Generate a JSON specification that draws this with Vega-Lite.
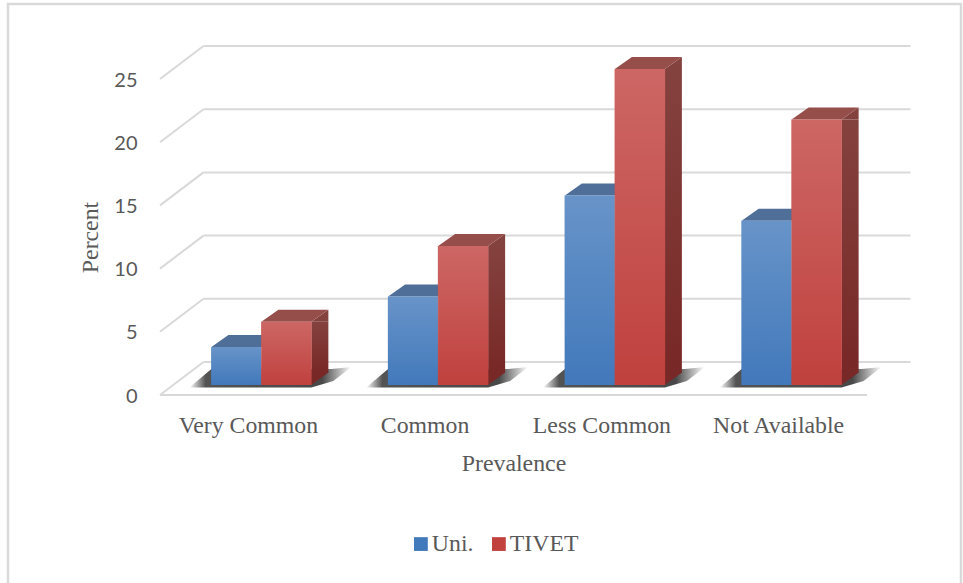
{
  "$schema": "https://vega.github.io/schema/vega-lite/v6.json",
  "width": 707,
  "height": 316,
  "autosize": {"type": "none"},
  "padding": {"left": 160, "top": 79, "right": 96, "bottom": 188},
  "background": "white",
  "config": {"view": {"stroke": null}},
  "datasets": {
    "survey": [
      {"prevalence": "Very Common", "series": "Uni.", "percent": 3},
      {"prevalence": "Very Common", "series": "TIVET", "percent": 5},
      {"prevalence": "Common", "series": "Uni.", "percent": 7},
      {"prevalence": "Common", "series": "TIVET", "percent": 11},
      {"prevalence": "Less Common", "series": "Uni.", "percent": 15},
      {"prevalence": "Less Common", "series": "TIVET", "percent": 25},
      {"prevalence": "Not Available", "series": "Uni.", "percent": 13},
      {"prevalence": "Not Available", "series": "TIVET", "percent": 21}
    ],
    "ticks": [{"tick": 0}, {"tick": 5}, {"tick": 10}, {"tick": 15}, {"tick": 20}, {"tick": 25}]
  },
  "layer": [
    {
      "description": "outer frame of the chart",
      "data": {"values": [{}]},
      "mark": {"type": "rect", "fill": null, "stroke": "#d9d9d9", "strokeWidth": 2.5},
      "encoding": {
        "x": {"value": -152},
        "x2": {"value": 801},
        "y": {"value": -75},
        "y2": {"value": 530}
      }
    },
    {
      "description": "back wall gridlines",
      "data": {"name": "ticks"},
      "mark": {"type": "rule", "stroke": "#d9d9d9", "strokeWidth": 2, "yOffset": -33},
      "encoding": {
        "x": {"value": 43.5},
        "x2": {"value": 750.5},
        "y": {
          "field": "tick",
          "type": "quantitative",
          "scale": {"domain": [0, 25], "nice": false, "zero": true},
          "axis": {
            "title": "Percent",
            "titleFont": "Liberation Serif",
            "titleFontSize": 23.8,
            "titleFontWeight": "normal",
            "titleColor": "#595959",
            "titleX": -70,
            "titleY": 158,
            "titleBaseline": "middle",
            "domain": false,
            "ticks": false,
            "grid": false,
            "values": [0, 5, 10, 15, 20, 25],
            "labelFont": "Lato",
            "labelFontSize": 20,
            "labelColor": "#595959",
            "labelPadding": 23,
            "labelOffset": 1
          }
        }
      }
    },
    {
      "description": "side wall gridlines running back from each tick",
      "data": {"name": "ticks"},
      "mark": {"type": "point", "shape": "M0 0L43.5 -33", "size": 4, "filled": false, "stroke": "#d9d9d9", "strokeWidth": 2, "opacity": 1},
      "encoding": {
        "x": {"value": 0},
        "y": {"field": "tick", "type": "quantitative"}
      }
    },
    {
      "description": "front edge of the floor",
      "data": {"values": [{"tick": 0}]},
      "mark": {"type": "rule", "stroke": "#d9d9d9", "strokeWidth": 2},
      "encoding": {"y": {"field": "tick", "type": "quantitative"}}
    },
    {
      "description": "floor shadow under each pair of bars",
      "data": {"name": "survey"},
      "transform": [{"filter": "datum.series === 'TIVET'"}],
      "mark": {
        "type": "point",
        "shape": "M-72 2.5L-50 -16L70 -16L90 -18L72 -4L50 2.5Z",
        "size": 4,
        "filled": true,
        "opacity": 1,
        "xOffset": 13,
        "yOffset": -10,
        "fill": {
          "x1": 0, "y1": 0, "x2": 1, "y2": 0,
          "gradient": "linear",
          "stops": [
            {"offset": 0, "color": "rgba(40,40,40,0)"},
            {"offset": 0.1, "color": "rgba(40,40,40,0.8)"},
            {"offset": 0.82, "color": "rgba(40,40,40,0.85)"},
            {"offset": 1, "color": "rgba(40,40,40,0)"}
          ]
        }
      },
      "encoding": {
        "x": {
          "field": "prevalence",
          "type": "nominal",
          "sort": ["Very Common", "Common", "Less Common", "Not Available"],
          "scale": {
            "domain": ["Very Common", "Common", "Less Common", "Not Available"],
            "paddingInner": 0,
            "paddingOuter": 0
          },
          "axis": {
            "title": "Prevalence",
            "titleFont": "Liberation Serif",
            "titleFontSize": 23.8,
            "titleFontWeight": "normal",
            "titleColor": "#595959",
            "titleY": 68,
            "titleBaseline": "middle",
            "domain": false,
            "ticks": false,
            "labelAngle": 0,
            "labelAlign": "center",
            "labelBaseline": "middle",
            "labelFont": "Liberation Serif",
            "labelFontSize": 23.8,
            "labelColor": "#595959",
            "labelPadding": 30
          }
        },
        "y": {"datum": 0, "type": "quantitative"}
      }
    },
    {
      "description": "top face of the Uni. bars",
      "data": {"name": "survey"},
      "transform": [{"filter": "datum.series === 'Uni.'"}],
      "mark": {"type": "point", "shape": "M-50 0L0 0L17 -12L-33 -12Z", "size": 4, "filled": true, "opacity": 1, "fill": "#4f6e98", "xOffset": 13, "yOffset": -10},
      "encoding": {
        "x": {"field": "prevalence", "type": "nominal"},
        "y": {"field": "percent", "type": "quantitative"}
      }
    },
    {
      "description": "side face of the TIVET bars, straight middle part",
      "data": {"name": "survey"},
      "transform": [{"filter": "datum.series === 'TIVET'"}],
      "mark": {
        "type": "bar",
        "width": 17,
        "xOffset": 71.5,
        "yOffset": -10,
        "y2Offset": -22,
        "fill": {
          "x1": 0, "y1": 0, "x2": 0, "y2": 1,
          "gradient": "linear",
          "stops": [{"offset": 0, "color": "#84423f"}, {"offset": 1, "color": "#782826"}]
        }
      },
      "encoding": {
        "x": {"field": "prevalence", "type": "nominal"},
        "y": {"field": "percent", "type": "quantitative"},
        "y2": {"datum": 0}
      }
    },
    {
      "description": "side face of the TIVET bars, slanted upper corner",
      "data": {"name": "survey"},
      "transform": [{"filter": "datum.series === 'TIVET'"}],
      "mark": {"type": "point", "shape": "M50 0L67 -12L67 0Z", "size": 4, "filled": true, "opacity": 1, "fill": "#84423f", "xOffset": 13, "yOffset": -10},
      "encoding": {
        "x": {"field": "prevalence", "type": "nominal"},
        "y": {"field": "percent", "type": "quantitative"}
      }
    },
    {
      "description": "side face of the TIVET bars, slanted lower corner",
      "data": {"name": "survey"},
      "transform": [{"filter": "datum.series === 'TIVET'"}],
      "mark": {"type": "point", "shape": "M50 0L50 -12.5L67 -12.5Z", "size": 4, "filled": true, "opacity": 1, "fill": "#782826", "xOffset": 13, "yOffset": -10},
      "encoding": {
        "x": {"field": "prevalence", "type": "nominal"},
        "y": {"datum": 0, "type": "quantitative"}
      }
    },
    {
      "description": "top face of the TIVET bars",
      "data": {"name": "survey"},
      "transform": [{"filter": "datum.series === 'TIVET'"}],
      "mark": {"type": "point", "shape": "M0 0L50 0L67 -12L17 -12Z", "size": 4, "filled": true, "opacity": 1, "fill": "#964e4b", "xOffset": 13, "yOffset": -10},
      "encoding": {
        "x": {"field": "prevalence", "type": "nominal"},
        "y": {"field": "percent", "type": "quantitative"}
      }
    },
    {
      "description": "front face of the Uni. bars",
      "data": {"name": "survey"},
      "transform": [{"filter": "datum.series === 'Uni.'"}],
      "mark": {"type": "bar", "width": 50.5, "xOffset": -12, "yOffset": -10, "y2Offset": -10},
      "encoding": {
        "x": {"field": "prevalence", "type": "nominal"},
        "y": {"field": "percent", "type": "quantitative"},
        "color": {
          "field": "series",
          "type": "nominal",
          "scale": {"domain": ["Uni.", "TIVET"], "range": ["#4279bb", "#c0413e"]},
          "legend": {
            "title": null,
            "orient": "none",
            "legendX": 249,
            "legendY": 453,
            "direction": "horizontal",
            "columnPadding": 13,
            "padding": 0,
            "symbolType": "square",
            "symbolSize": 190,
            "symbolStrokeWidth": 0,
            "symbolOpacity": 1,
            "labelFont": "Liberation Serif",
            "labelFontSize": 23.8,
            "labelColor": "#595959",
            "labelOffset": -1
          }
        }
      }
    },
    {
      "description": "front face of the TIVET bars",
      "data": {"name": "survey"},
      "transform": [{"filter": "datum.series === 'TIVET'"}],
      "mark": {"type": "bar", "width": 50.5, "xOffset": 38, "yOffset": -10, "y2Offset": -10},
      "encoding": {
        "x": {"field": "prevalence", "type": "nominal"},
        "y": {"field": "percent", "type": "quantitative"},
        "color": {"field": "series", "type": "nominal"}
      }
    },
    {
      "description": "soft highlight over the Uni. front faces",
      "data": {"name": "survey"},
      "transform": [{"filter": "datum.series === 'Uni.'"}],
      "mark": {
        "type": "bar",
        "width": 50.5,
        "xOffset": -12,
        "yOffset": -10,
        "y2Offset": -10,
        "fill": {
          "x1": 0, "y1": 0, "x2": 0, "y2": 1,
          "gradient": "linear",
          "stops": [{"offset": 0, "color": "rgba(255,255,255,0.2)"}, {"offset": 1, "color": "rgba(255,255,255,0)"}]
        }
      },
      "encoding": {
        "x": {"field": "prevalence", "type": "nominal"},
        "y": {"field": "percent", "type": "quantitative"}
      }
    },
    {
      "description": "soft highlight over the TIVET front faces",
      "data": {"name": "survey"},
      "transform": [{"filter": "datum.series === 'TIVET'"}],
      "mark": {
        "type": "bar",
        "width": 50.5,
        "xOffset": 38,
        "yOffset": -10,
        "y2Offset": -10,
        "fill": {
          "x1": 0, "y1": 0, "x2": 0, "y2": 1,
          "gradient": "linear",
          "stops": [{"offset": 0, "color": "rgba(255,255,255,0.2)"}, {"offset": 1, "color": "rgba(255,255,255,0)"}]
        }
      },
      "encoding": {
        "x": {"field": "prevalence", "type": "nominal"},
        "y": {"field": "percent", "type": "quantitative"}
      }
    }
  ]
}
